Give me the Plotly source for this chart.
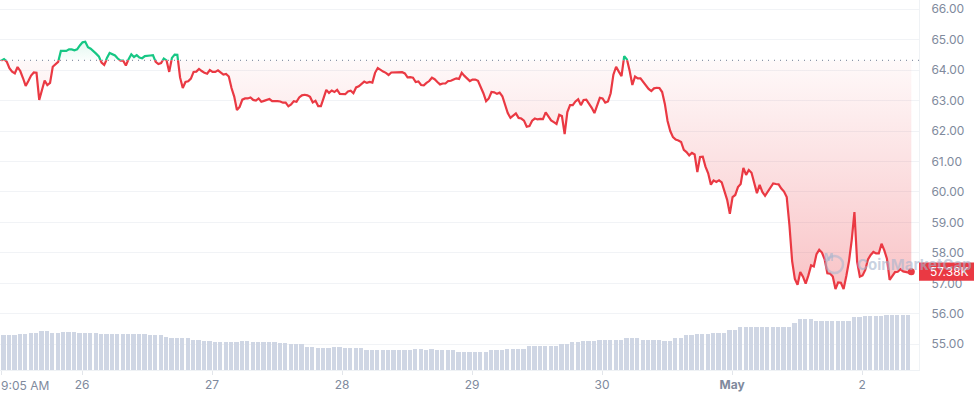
import plotly.graph_objects as go
import pandas as pd

# ---------------- data ----------------
start_time = "2024-04-25 09:05"           # first sample, 30-minute steps
open_price_k = 64.32                        # reference (open) price, USD thousands

price_k = [
    64.31, 64.36, 64.28, 64.06, 63.95, 63.89, 64.10, 63.97, 63.74, 63.48,
    63.64, 63.82, 63.92, 63.91, 63.02, 63.38, 63.66, 63.51, 63.58, 64.11,
    64.19, 64.27, 64.63, 64.64, 64.63, 64.68, 64.68, 64.65, 64.68, 64.81,
    64.91, 64.93, 64.75, 64.70, 64.63, 64.54, 64.45, 64.25, 64.17, 64.40,
    64.56, 64.51, 64.48, 64.38, 64.31, 64.31, 64.15, 64.36, 64.52, 64.43,
    64.49, 64.41, 64.39, 64.46, 64.46, 64.48, 64.49, 64.27, 64.20, 64.23,
    64.38, 64.32, 63.94, 64.40, 64.51, 64.50, 63.76, 63.41, 63.61, 63.63,
    63.72, 63.94, 63.95, 64.04, 63.97, 63.91, 63.88, 64.00, 63.94, 63.94,
    63.99, 63.91, 63.85, 63.87, 63.79, 63.41, 63.13, 62.69, 62.79, 63.03,
    63.07, 63.07, 63.10, 63.02, 63.00, 63.07, 62.96, 62.99, 63.03, 63.05,
    62.98, 62.99, 62.98, 62.97, 62.93, 62.93, 62.81, 62.87, 62.98, 62.96,
    63.10, 63.17, 63.19, 63.17, 63.12, 62.94, 62.99, 62.82, 62.82, 63.08,
    63.35, 63.25, 63.33, 63.28, 63.35, 63.22, 63.21, 63.21, 63.30, 63.32,
    63.24, 63.43, 63.47, 63.54, 63.62, 63.58, 63.61, 63.59, 63.91, 64.07,
    64.00, 63.95, 63.91, 63.84, 63.92, 63.92, 63.94, 63.94, 63.93, 63.89,
    63.76, 63.77, 63.75, 63.61, 63.63, 63.51, 63.50, 63.58, 63.64, 63.75,
    63.70, 63.61, 63.53, 63.56, 63.56, 63.64, 63.65, 63.69, 63.73, 63.71,
    63.91, 63.81, 63.72, 63.64, 63.69, 63.69, 63.65, 63.45, 63.24, 62.98,
    63.07, 63.28, 63.27, 63.22, 63.26, 63.14, 62.84, 62.59, 62.43, 62.51,
    62.58, 62.43, 62.41, 62.34, 62.14, 62.16, 62.34, 62.41, 62.38, 62.40,
    62.39, 62.61, 62.47, 62.35, 62.29, 62.23, 62.53, 62.49, 61.90, 62.62,
    62.85, 62.85, 62.97, 63.04, 62.85, 63.02, 63.03, 62.90, 62.76, 62.59,
    62.83, 63.09, 63.07, 62.93, 62.97, 63.24, 63.85, 64.11, 63.95, 63.80,
    64.46, 64.35, 63.98, 63.51, 63.79, 63.73, 63.73, 63.62, 63.48, 63.38,
    63.31, 63.40, 63.42, 63.41, 63.28, 62.89, 62.33, 62.00, 61.80, 61.72,
    61.69, 61.64, 61.38, 61.31, 61.20, 61.28, 61.23, 60.65, 61.15, 61.16,
    60.83, 60.61, 60.24, 60.38, 60.33, 60.38, 60.31, 60.06, 59.74, 59.28,
    59.83, 59.90, 60.16, 60.26, 60.79, 60.56, 60.72, 60.63, 60.33, 59.96,
    60.23, 60.00, 59.87, 60.01, 60.16, 60.28, 60.26, 60.25, 60.11, 60.01,
    59.83, 58.91, 57.73, 57.14, 56.95, 57.37, 57.22, 56.99, 57.26, 57.59,
    57.55, 57.96, 58.10, 58.01, 57.79, 57.33, 57.32, 57.22, 56.81, 57.03,
    57.02, 56.81, 57.24, 57.73, 58.42, 59.34, 57.70, 57.22, 57.26, 57.44,
    57.78, 57.93, 58.03, 57.98, 57.98, 58.30, 58.09, 57.81, 57.11, 57.24,
    57.37, 57.38, 57.46, 57.39, 57.36, 57.35, 57.38,
]

# hourly volume, USD billions
volume_b = [
    28.4, 28.4, 28.4, 29.2, 29.2, 30.2, 30.2, 31.4, 31.4, 30.2,
    30.2, 30.8, 30.8, 30.8, 30.0, 30.0, 30.0, 30.0, 29.2, 29.2,
    29.2, 29.2, 29.2, 29.2, 29.2, 29.2, 29.2, 28.4, 28.4, 28.4,
    27.0, 25.9, 25.9, 26.2, 26.2, 24.3, 24.3, 23.5, 23.5, 22.7,
    22.7, 22.7, 22.7, 22.9, 23.5, 23.5, 22.7, 22.7, 22.7, 22.7,
    22.7, 21.9, 21.9, 21.1, 21.1, 21.1, 18.9, 18.9, 17.8, 17.8,
    17.8, 18.6, 18.6, 17.8, 17.8, 17.8, 17.8, 16.2, 16.2, 16.2,
    16.2, 16.2, 16.2, 16.2, 16.2, 16.2, 17.0, 17.0, 16.2, 16.8,
    16.2, 16.2, 16.2, 16.2, 14.6, 14.6, 14.6, 14.6, 14.6, 14.8,
    16.2, 16.2, 16.2, 17.3, 17.3, 17.3, 17.3, 19.5, 19.5, 19.5,
    19.5, 19.5, 19.5, 20.8, 20.8, 22.5, 22.5, 23.3, 23.3, 23.3,
    24.1, 24.1, 24.1, 24.1, 24.1, 25.7, 25.7, 25.7, 24.3, 24.3,
    24.3, 24.3, 23.3, 23.3, 25.7, 25.7, 28.4, 28.4, 29.2, 29.2,
    29.2, 30.2, 30.2, 30.2, 32.4, 32.4, 34.6, 34.6, 34.6, 34.6,
    34.6, 34.6, 34.6, 34.6, 34.6, 34.6, 37.9, 41.1, 41.1, 41.1,
    40.0, 40.0, 40.0, 40.0, 40.0, 40.0, 39.5, 42.7, 42.7, 43.8,
    43.8, 43.8, 43.8, 44.6, 44.6, 44.6, 44.6, 44.6,
]

day_ticks = ["2024-04-26", "2024-04-27", "2024-04-28", "2024-04-29",
             "2024-04-30", "2024-05-01", "2024-05-02"]
day_labels = ["26", "27", "28", "29", "30", "<b>May</b>", "2"]
first_label = "9:05 AM"
price_ticks = [55, 56, 57, 58, 59, 60, 61, 62, 63, 64, 65, 66]

# ---------------- styling / layout ----------------
RED = "#ea3943"
GREEN = "#16c784"
GRAY = "#808a9d"
FONT = "Inter, Roboto, sans-serif"

t0 = pd.Timestamp(start_time)
times = pd.date_range(t0, periods=len(price_k), freq="30min")
vol_times = pd.date_range(t0 + pd.Timedelta(minutes=25), periods=len(volume_b), freq="60min")
x_range = [t0 - pd.Timedelta(minutes=14.4), t0 + pd.Timedelta(hours=169.42)]

y_lo, y_hi = 54.154, 66.301
split = (open_price_k - y_lo) / (y_hi - y_lo)
base_line = [open_price_k] * len(price_k)
last = price_k[-1]

fig = go.Figure()

# volume bars
fig.add_trace(go.Bar(x=vol_times, y=volume_b, yaxis="y4",
                     marker=dict(color="#cfd6e4", line=dict(width=0)),
                     width=3600 * 1000 * 0.78, hoverinfo="skip"))

# upper (green) part: clipped to area above the open price
fig.add_trace(go.Scatter(x=times, y=base_line, yaxis="y2", mode="lines",
                         line=dict(width=0), hoverinfo="skip"))
fig.add_trace(go.Scatter(x=times, y=price_k, yaxis="y2", mode="lines",
                         line=dict(color=GREEN, width=2.2), fill="tonexty",
                         fillgradient=dict(type="vertical", start=open_price_k, stop=max(price_k),
                                           colorscale=[[0, "rgba(22,199,132,0.02)"],
                                                       [1, "rgba(22,199,132,0.12)"]]),
                         hoverinfo="skip"))

# lower (red) part: clipped to area below the open price
fig.add_trace(go.Scatter(x=times, y=base_line, yaxis="y3", mode="lines",
                         line=dict(width=0), hoverinfo="skip"))
fig.add_trace(go.Scatter(x=times, y=price_k, yaxis="y3", mode="lines",
                         line=dict(color=RED, width=2.2), fill="tonexty",
                         fillgradient=dict(type="vertical", start=min(price_k), stop=open_price_k,
                                           colorscale=[[0, "rgba(234,57,67,0.30)"],
                                                       [1, "rgba(234,57,67,0.03)"]]),
                         hoverinfo="skip"))
# end dot
fig.add_trace(go.Scatter(x=[times[-1]], y=[last], yaxis="y3", mode="markers",
                         marker=dict(color=RED, size=7), hoverinfo="skip"))

fig.update_layout(
    width=975, height=396,
    margin=dict(l=0, r=56, t=0, b=26),
    paper_bgcolor="white", plot_bgcolor="rgba(0,0,0,0)",
    showlegend=False,
    font=dict(family=FONT, size=12, color=GRAY),
    xaxis=dict(type="date", range=x_range, anchor="y",
               tickvals=[t0] + [pd.Timestamp(d) for d in day_ticks],
               ticktext=[""] + day_labels,
               ticks="outside", ticklen=4, tickcolor="#e3e6eb",
               showgrid=False, zeroline=False,
               showline=True, linecolor="#eff2f5", linewidth=1,
               tickfont=dict(family=FONT, size=12, color=GRAY)),
    yaxis=dict(range=[y_lo, y_hi], domain=[0, 1], side="right",
               tickvals=price_ticks, tickformat=".2f", ticksuffix="K",
               showgrid=True, gridcolor="#f1f3f6", gridwidth=1,
               zeroline=False, showline=True, linecolor="#eff2f5",
               ticks="", ticklabelstandoff=9,
               tickfont=dict(family=FONT, size=12, color=GRAY)),
    yaxis2=dict(range=[open_price_k, y_hi], domain=[split, 1], anchor="x",
                visible=False, showgrid=False),
    yaxis3=dict(range=[y_lo, open_price_k], domain=[0, split], anchor="x",
                visible=False, showgrid=False),
    yaxis4=dict(range=[0, 60], domain=[0, 0.2], anchor="x",
                visible=False, showgrid=False),
    bargap=0,
)

# open-price dotted line
fig.add_shape(type="line", xref="paper", x0=0, x1=1, yref="y", y0=open_price_k, y1=open_price_k,
              line=dict(color="#8d96a8", width=1.2, dash="1px,5px"), layer="above")

# first tick label (left aligned)
fig.add_annotation(text=first_label, xref="x", x=t0, xanchor="left", xshift=-2,
                   yref="paper", y=0, yanchor="top", yshift=-6, showarrow=False,
                   font=dict(family=FONT, size=12, color=GRAY))

# last price label: red box (shape) + white text
fig.add_shape(type="rect", xref="paper", x0=1, x1=1 + 55 / 919, yref="y",
              y0=last - 0.30, y1=last + 0.30, fillcolor=RED, line=dict(width=0), layer="above")
fig.add_annotation(text=f"{last:.2f}K", xref="paper", x=1, xanchor="left", xshift=9,
                   yref="y", y=last, yanchor="middle", showarrow=False,
                   font=dict(family=FONT, size=12, color="white"))

# watermark (drawn on top)
fig.add_shape(type="circle", xref="paper", yref="paper",
              x0=826 / 919, x1=843 / 919, y0=1 - 273 / 370, y1=1 - 256 / 370,
              line=dict(color="rgba(165,180,205,0.55)", width=2.5))
fig.add_annotation(text="<b>M</b>", xref="paper", yref="paper", x=834.5 / 919, y=1 - 264.5 / 370,
                   showarrow=False, font=dict(size=10, color="rgba(165,180,205,0.65)", family=FONT))
fig.add_annotation(text="<b>CoinMarketCap</b>", xref="paper", yref="paper",
                   x=855 / 919, y=1 - 264 / 370, xanchor="left", yanchor="middle",
                   showarrow=False, font=dict(size=15, color="rgba(165,180,205,0.6)", family=FONT))

fig.write_html("out.html", config={"displayModeBar": False},
               post_script="document.body.style.margin='0';document.body.style.overflow='hidden';")
